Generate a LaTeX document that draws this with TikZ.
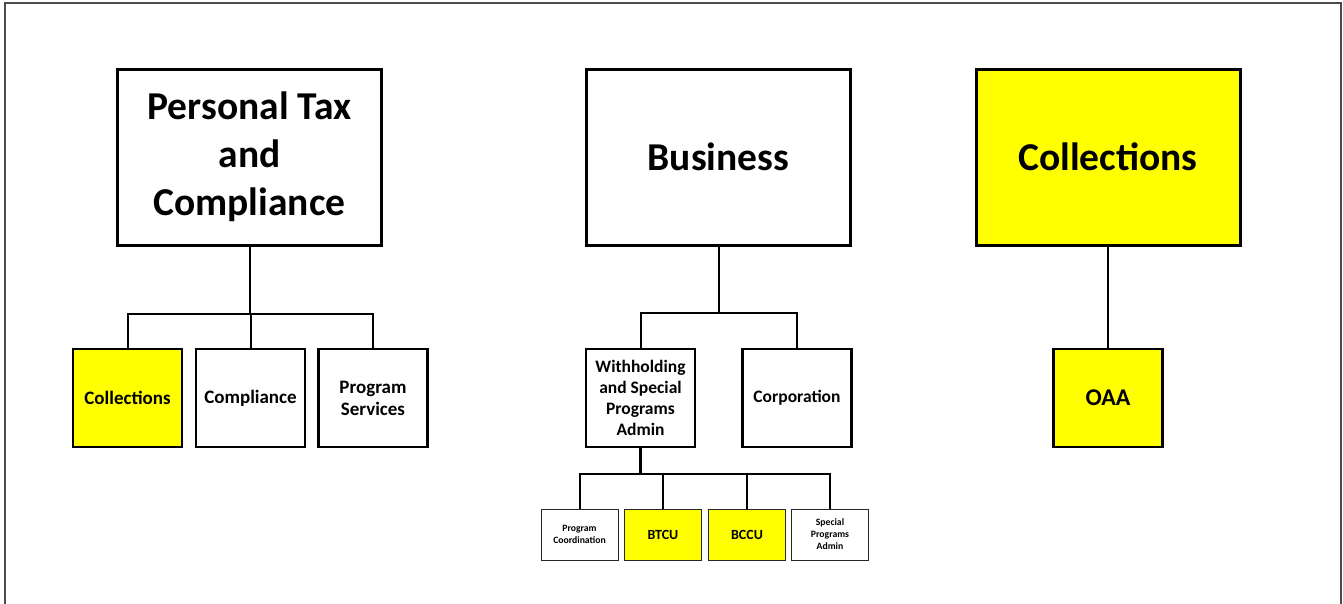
\documentclass[tikz,border=0pt]{standalone}
\usepackage{fontspec}
\setmainfont{Carlito}
\definecolor{hl}{HTML}{FFFF00}
\begin{document}
\begin{tikzpicture}[x=1pt,y=-1pt,
  topbox/.style={draw=black,line width=3pt,align=center,inner sep=2pt,minimum width=264pt,minimum height=176pt,font=\fontsize{39.5}{48}\selectfont\bfseries},
  midbox/.style={draw=black,line width=2.4pt,align=center,inner sep=2pt,minimum width=109pt,minimum height=98pt,font=\fontsize{19}{22}\selectfont\bfseries},
  smallbox/.style={draw=black!85,line width=0.9pt,align=center,inner sep=1pt,minimum width=77pt,minimum height=51pt,font=\fontsize{9.7}{12}\selectfont\bfseries},
  yel/.style={fill=hl},
  conn/.style={draw=black,line width=2pt},
  frame/.style={draw=black!70,line width=1.5pt}]
\useasboundingbox (0,0) rectangle (1343,603);
\draw[frame] (5,3) rectangle (1341,620);
% top boxes
\node[topbox] (ptc) at (249.5,157) {Personal Tax\\and\\Compliance};
\node[topbox] (bus) at (718.5,157) {Business};
\node[topbox,yel] (col) at (1108,157) {Collections};
% PTC children
\node[midbox,yel] (pcol) at (127.5,398) {Collections};
\node[midbox] (pcom) at (250.5,398) {Compliance};
\node[midbox] (pps) at (373,398) {Program\\Services};
\coordinate (pb) at (249.5,314);
\draw[conn] (ptc.south) -- (pb);
\draw[conn] (pcol.north) |- (pb) -| (pps.north);
\draw[conn] (pcom.north) -- (pcom.north |- pb);
% Business children
\node[midbox,font=\fontsize{17.5}{21}\selectfont\bfseries] (wsp) at (640.5,398) {Withholding\\and Special\\Programs\\Admin};
\node[midbox,font=\fontsize{17.5}{21}\selectfont\bfseries] (corp) at (797,398) {Corporation};
\coordinate (bb) at (718.5,313);
\draw[conn] (bus.south) -- (bb);
\draw[conn] (wsp.north) |- (bb) -| (corp.north);
% Withholding children
\node[smallbox] (pc) at (579.5,534.5) {Program\\Coordination};
\node[smallbox,yel,font=\fontsize{14}{16}\selectfont\bfseries] (btcu) at (663,534.5) {BTCU};
\node[smallbox,yel,font=\fontsize{14}{16}\selectfont\bfseries] (bccu) at (747,534.5) {BCCU};
\node[smallbox] (spa) at (830,534.5) {Special\\Programs\\Admin};
\coordinate (wb) at (640.5,474);
\draw[conn,line width=3pt] (wsp.south) -- (wb);
\draw[conn] (pc.north) |- (wb) -| (spa.north);
\draw[conn] (btcu.north) -- (btcu.north |- wb);
\draw[conn] (bccu.north) -- (bccu.north |- wb);
% Collections child
\node[midbox,yel,font=\fontsize{24}{28}\selectfont\bfseries] (oaa) at (1108,398) {OAA};
\draw[conn,line width=1.6pt] (col.south) -- (oaa.north);
\end{tikzpicture}
\end{document}
